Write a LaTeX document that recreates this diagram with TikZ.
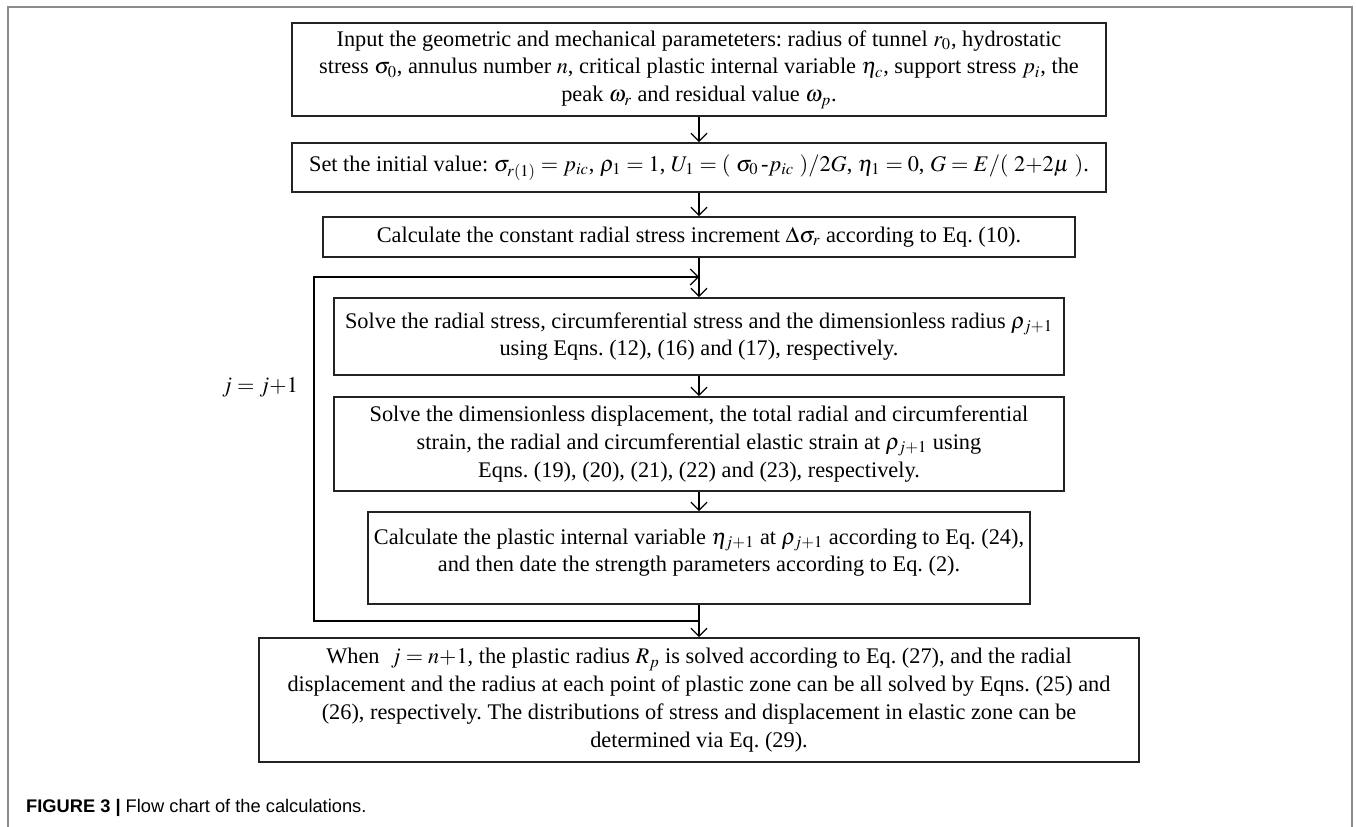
\documentclass[tikz,border=0pt]{standalone}
\usepackage{mathptmx}
\usepackage[no-math]{fontspec}
\setmainfont{Liberation Serif}
\newfontfamily\capfont{Liberation Sans}
\usetikzlibrary{arrows.meta, positioning, calc}
\definecolor{framegray}{RGB}{140,140,140}
\definecolor{boxline}{RGB}{35,35,35}
\frenchspacing
\tikzset{
    calcbox/.style={rectangle, draw=boxline, line width=1.1pt, align=center, inner sep=0pt, font=\fontsize{12.7}{15.8}\selectfont},
    arrow/.style={-{Straight Barb[length=1.6mm, width=3.2mm]}, line width=0.7pt},
    flowline/.style={line width=0.7pt},
}

\begin{document}
\begin{tikzpicture}[x=0.02cm, y=-0.02cm]
    \useasboundingbox (0,0) rectangle (1356,827);
    % outer frame
    \draw[framegray, line width=0.8pt] (8,827) -- (8,7) -- (1352,7) -- (1352,827);

    \node[calcbox, minimum width=16.28cm, minimum height=1.86cm] (input) at (699,69.5) {Input the geometric and mechanical parameteters: radius of tunnel $r_0$, hydrostatic\\ stress $\sigma_0$, annulus number $n$, critical plastic internal variable $\eta_c$, support stress $p_i$, the\\ peak $\omega_r$ and residual value $\omega_p$.};
    \node[calcbox, minimum width=16.28cm, minimum height=0.98cm] (init) at (699,167.5) {Set the initial value: $\sigma_{r(1)} = p_{ic}$, $\rho_1 = 1$, $U_1 = (\ \sigma_0\,\mbox{-}p_{ic}\ )/2G$, $\eta_1 = 0$, $G = E/(\ 2{+}2\mu\ )$.};
    \node[calcbox, minimum width=15.04cm, minimum height=0.80cm] (incr) at (699,237) {Calculate the constant radial stress increment $\Delta\sigma_r$ according to Eq. (10).};
    \node[calcbox, minimum width=14.62cm, minimum height=1.54cm] (stress) at (699,336.5) {Solve the radial stress, circumferential stress and the dimensionless radius $\rho_{j+1}$\\ using Eqns. (12), (16) and (17), respectively.};
    \node[calcbox, minimum width=14.62cm, minimum height=1.88cm] (strain) at (699,444) {Solve the dimensionless displacement, the total radial and circumferential\\ strain, the radial and circumferential elastic strain at $\rho_{j+1}$ using\\ Eqns. (19), (20), (21), (22) and (23), respectively.};
    \node[calcbox, minimum width=13.24cm, minimum height=1.84cm] (update) at (699,558) {Calculate the plastic internal variable $\eta_{j+1}$ at $\rho_{j+1}$ according to Eq. (24),\\ and then date the strength parameters according to Eq. (2).\\[-0.25cm]\mbox{}};
    \node[calcbox, minimum width=17.62cm, minimum height=2.48cm] (result) at (699,700) {When\ \ $j = n{+}1$, the plastic radius $R_p$ is solved according to Eq. (27), and the radial\\ displacement and the radius at each point of plastic zone can be all solved by Eqns. (25) and\\ (26), respectively. The distributions of stress and displacement in elastic zone can be\\ determined via Eq. (29).};

    \node[font=\fontsize{12.7}{15.8}\selectfont] (jinc) at (260,387) {$j = j{+}1$};

    \coordinate (looptop) at (699,277);
    \coordinate (loopbot) at (699,621);

    \draw[arrow] (input) -- (init);
    \draw[arrow] (init) -- (incr);
    \draw[arrow] (incr) -- (stress);
    \draw[arrow] (stress) -- (strain);
    \draw[arrow] (strain) -- (update);
    \draw[flowline] (update) -- (loopbot);
    \draw[arrow] (loopbot) -- (result);
    % loop back
    \draw[arrow] (loopbot) -- ++(-385,0) |- (looptop);

    \node[anchor=west, font=\capfont\fontsize{10.4}{12}\selectfont] (caption) at (20,808) {\textbf{FIGURE 3 |} Flow chart of the calculations.};
\end{tikzpicture}
\end{document}
